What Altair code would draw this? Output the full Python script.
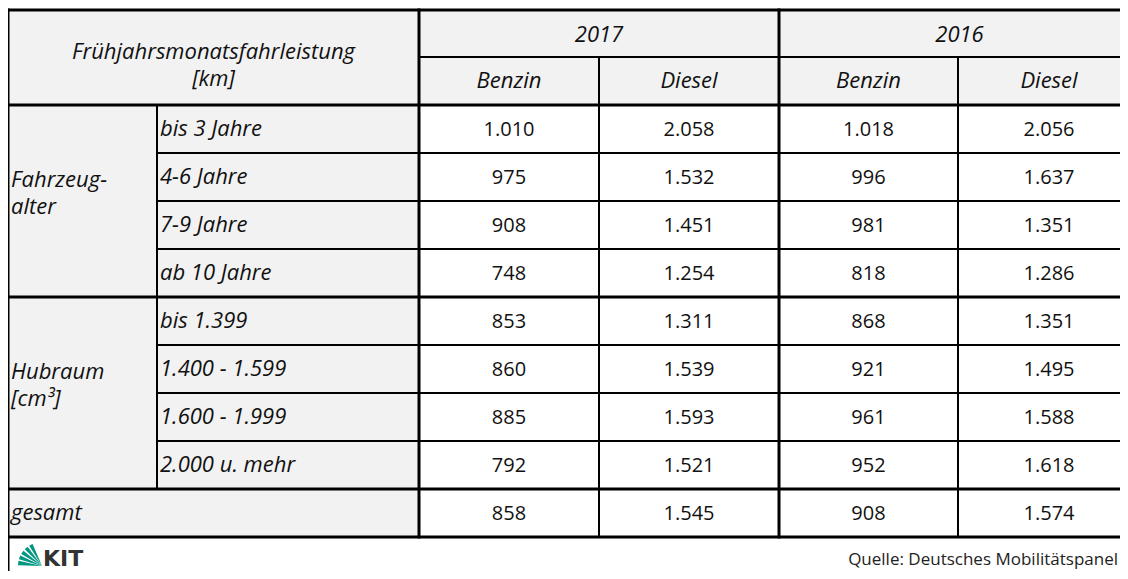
import altair as alt
import pandas as pd

# ---------------- data ----------------
header_title = ["Frühjahrsmonatsfahrleistung", "[km]"]
years = ["2017", "2016"]
fuels = ["Benzin", "Diesel"]
groups = [["Fahrzeug-", "alter"], ["Hubraum", "[cm³]"]]
sub_labels = ["bis 3 Jahre", "4-6 Jahre", "7-9 Jahre", "ab 10 Jahre",
              "bis 1.399", "1.400 - 1.599", "1.600 - 1.999", "2.000 u. mehr"]
total_label = "gesamt"
benzin_2017 = [1010, 975, 908, 748, 853, 860, 885, 792, 858]
diesel_2017 = [2058, 1532, 1451, 1254, 1311, 1539, 1593, 1521, 1545]
benzin_2016 = [1018, 996, 981, 818, 868, 921, 961, 952, 908]
diesel_2016 = [2056, 1637, 1351, 1286, 1351, 1495, 1588, 1618, 1574]
source_text = "Quelle: Deutsches Mobilitätspanel"
logo_text = "KIT"

# ---------------- layout (page pixels) ----------------
X0, XG, XL, XR = 8, 157, 419, 1140
VCOLS = [419, 599, 779, 958, 1140]
Y0, YM, YH = 10, 57, 105
ROW_H = 48
N_ROWS = 9
YB = YH + ROW_H * N_ROWS  # 537
GRAY = "#f2f2f2"
FONT = "Open Sans"
FS = 20
FSI = 22
LH = 27
PAGE_R, PAGE_B = 1120, 571


def row_top(i):
    return YH + ROW_H * i


def fmt(v):
    return f"{v:,}".replace(",", ".")


# cells (gray)
cells = [dict(x=X0, x2=XL, y=Y0, y2=YH)]
for k in range(2):
    cells.append(dict(x=VCOLS[2 * k], x2=VCOLS[2 * k + 2], y=Y0, y2=YM))
for k in range(4):
    cells.append(dict(x=VCOLS[k], x2=VCOLS[k + 1], y=YM, y2=YH))
cells.append(dict(x=X0, x2=XG, y=row_top(0), y2=row_top(4)))
cells.append(dict(x=X0, x2=XG, y=row_top(4), y2=row_top(8)))
for i in range(8):
    cells.append(dict(x=XG, x2=XL, y=row_top(i), y2=row_top(i + 1)))
cells.append(dict(x=X0, x2=XL, y=row_top(8), y2=YB))
cells_df = pd.DataFrame(cells)

# lines
lines = []
for y, w in [(Y0, 3), (YH, 3), (row_top(4), 3), (row_top(8), 3), (YB, 3)]:
    lines.append(dict(x=X0, x2=XR, y=y, y2=y, w=w))
lines.append(dict(x=XL, x2=XR, y=YM, y2=YM, w=2))
for i in [1, 2, 3, 5, 6, 7]:
    lines.append(dict(x=XG, x2=XR, y=row_top(i), y2=row_top(i), w=2))
lines.append(dict(x=X0, x2=X0, y=Y0, y2=600, w=3))
lines.append(dict(x=XG, x2=XG, y=row_top(0), y2=row_top(8), w=2))
lines.append(dict(x=XL, x2=XL, y=Y0, y2=YB, w=3))
lines.append(dict(x=VCOLS[2], x2=VCOLS[2], y=Y0, y2=YB, w=3))
lines.append(dict(x=VCOLS[1], x2=VCOLS[1], y=YM, y2=YB, w=2))
lines.append(dict(x=VCOLS[3], x2=VCOLS[3], y=YM, y2=YB, w=2))
lines.append(dict(x=XR, x2=XR, y=Y0, y2=600, w=3))
lines_df = pd.DataFrame(lines)

# texts
hc = (Y0 + YH) / 2
hdr = [dict(x=(X0 + XL) / 2, y=hc + 1, t="\n".join(header_title))]
for k in range(2):
    hdr.append(dict(x=(VCOLS[2 * k] + VCOLS[2 * k + 2]) / 2, y=(Y0 + YM) / 2 + 8, t=years[k]))
for k in range(4):
    hdr.append(dict(x=(VCOLS[k] + VCOLS[k + 1]) / 2, y=(YM + YH) / 2 + 7, t=fuels[k % 2]))
hdr_df = pd.DataFrame(hdr)

lab = []
for g in range(2):
    gc = (row_top(4 * g) + row_top(4 * g + 4)) / 2
    lab.append(dict(x=X0 + 3, y=gc - 14, t="\n".join(groups[g])))
for i in range(8):
    lab.append(dict(x=XG + 3, y=row_top(i) + ROW_H / 2 + 7, t=sub_labels[i]))
lab.append(dict(x=X0 + 3, y=row_top(8) + ROW_H / 2 + 7, t=total_label))
lab_df = pd.DataFrame(lab)

vals = []
for c, series in enumerate([benzin_2017, diesel_2017, benzin_2016, diesel_2016]):
    for i, v in enumerate(series):
        vals.append(dict(x=(VCOLS[c] + VCOLS[c + 1]) / 2, y=row_top(i) + ROW_H / 2 + 7, t=fmt(v)))
vals_df = pd.DataFrame(vals)

# logo fan wedges (radians, 0 = up, clockwise)
fan_df = pd.DataFrame(dict(
    x=[42] * 5, y=[566] * 5,
    a=[4.74, 5.00, 5.24, 5.48, 5.72],
    a2=[4.93, 5.16, 5.40, 5.64, 5.88],
))

xs = alt.Scale(domain=[8, PAGE_R], nice=False, zero=False)
ys = alt.Scale(domain=[8, PAGE_B], nice=False, zero=False, reverse=True)

X = lambda f="x": alt.X(f"{f}:Q", scale=xs, axis=None)
Y = lambda f="y": alt.Y(f"{f}:Q", scale=ys, axis=None)

cells_layer = alt.Chart(cells_df).mark_rect(fill=GRAY, stroke="#b8b8b8", strokeWidth=1).encode(
    x=X(), x2="x2:Q", y=Y(), y2="y2:Q")

lines_layer = alt.Chart(lines_df).mark_rule(color="#000000", strokeCap="square").encode(
    x=X(), x2="x2:Q", y=Y(), y2="y2:Q",
    strokeWidth=alt.StrokeWidth("w:Q", scale=None, legend=None))

hdr_layer = alt.Chart(hdr_df).mark_text(font=FONT, fontSize=FSI, fontStyle="italic", align="center",
                                        baseline="alphabetic", color="#111111",
                                        lineBreak="\n", lineHeight=LH).encode(
    x=X(), y=Y(), text="t:N")

lab_layer = alt.Chart(lab_df).mark_text(font=FONT, fontSize=FSI, fontStyle="italic", align="left",
                                        baseline="alphabetic", color="#111111",
                                        lineBreak="\n", lineHeight=LH).encode(
    x=X(), y=Y(), text="t:N")

vals_layer = alt.Chart(vals_df).mark_text(font=FONT, fontSize=FS, align="center",
                                          baseline="alphabetic", color="#111111").encode(
    x=X(), y=Y(), text="t:N")

fan_layer = alt.Chart(fan_df).mark_arc(color="#009682", radius=24).encode(
    x=X(), y=Y(),
    theta=alt.Theta("a:Q", scale=None), theta2="a2:Q")

logo_layer = alt.Chart(pd.DataFrame(dict(x=[43], y=[566], t=[logo_text]))).mark_text(
    font="DejaVu Sans", fontWeight="bold", fontSize=22, align="left", baseline="alphabetic",
    color="#333333").encode(x=X(), y=Y(), text="t:N")

src_layer = alt.Chart(pd.DataFrame(dict(x=[1118], y=[565], t=[source_text]))).mark_text(
    font=FONT, fontSize=17, align="right", baseline="alphabetic", color="#222222").encode(
    x=X(), y=Y(), text="t:N")

chart = alt.layer(cells_layer, lines_layer, hdr_layer, lab_layer, vals_layer,
                  fan_layer, logo_layer, src_layer).properties(
    width=PAGE_R - 8, height=PAGE_B - 8, padding=0, autosize=alt.AutoSizeParams(type="none"),
    background="white"
).configure_view(stroke=None)

chart.save("out.html", embed_options={"renderer": "svg", "actions": False})
